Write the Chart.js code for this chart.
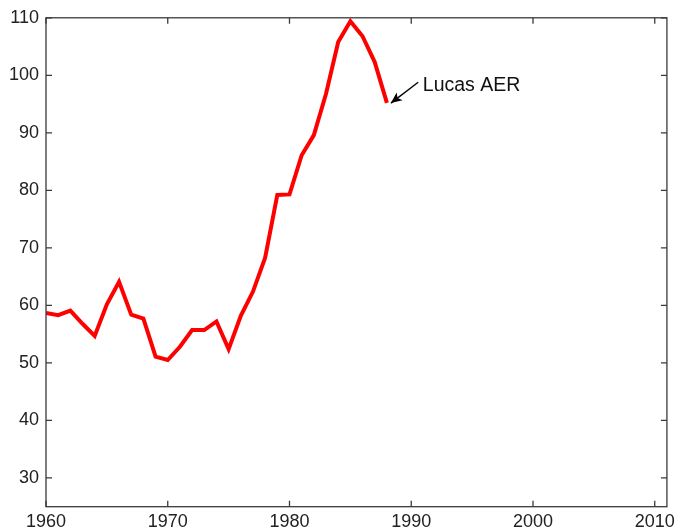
<!DOCTYPE html>
<html>
<head>
<meta charset="utf-8">
<script src="https://cdn.jsdelivr.net/npm/chart.js@4"></script>
<style>
  html, body { margin: 0; padding: 0; background: #fff; }
</style>
</head>
<body>
<canvas id="c" width="680" height="532"></canvas>
<script>
const years = [1960,1961,1962,1963,1964,1965,1966,1967,1968,1969,1970,1971,1972,1973,1974,1975,1976,1977,1978,1979,1980,1981,1982,1983,1984,1985,1986,1987,1988];
const values = [58.7,58.3,59.1,56.8,54.7,60.2,64.1,58.4,57.7,51.1,50.5,52.8,55.7,55.7,57.2,52.4,58.2,62.4,68.3,79.2,79.3,86.1,89.6,96.8,105.8,109.4,106.8,102.3,95.2];
const xTicks = [1960,1970,1980,1990,2000,2010];
const yTicks = [30,40,50,60,70,80,90,100,110];
const labelText = 'Lucas AER';

const axisColor = '#3a3a3a';
const font = { family: '"Liberation Sans", Arial, Helvetica, sans-serif', size: 18 };

const boxPlugin = {
  id: 'box',
  afterDraw(chart) {
    const { ctx, chartArea: a, scales: { x, y } } = chart;
    ctx.save();
    ctx.strokeStyle = axisColor;
    ctx.lineWidth = 1.3;
    ctx.strokeRect(a.left, a.top, a.right - a.left, a.bottom - a.top);
    const tl = 6;
    ctx.beginPath();
    xTicks.forEach(v => {
      const px = x.getPixelForValue(v);
      ctx.moveTo(px, a.bottom); ctx.lineTo(px, a.bottom - tl);
      ctx.moveTo(px, a.top); ctx.lineTo(px, a.top + tl);
    });
    yTicks.forEach(v => {
      const py = y.getPixelForValue(v);
      ctx.moveTo(a.left, py); ctx.lineTo(a.left + tl, py);
      ctx.moveTo(a.right, py); ctx.lineTo(a.right - tl, py);
    });
    ctx.stroke();

    // annotation
    const tx = x.getPixelForValue(1990.95), ty = y.getPixelForValue(97.32);
    ctx.fillStyle = '#111';
    ctx.font = '19.5px "Liberation Sans", Arial, Helvetica, sans-serif';
    ctx.textBaseline = 'alphabetic';
    ctx.textAlign = 'left';
    ctx.fillText(labelText, tx, ty);

    const x0 = x.getPixelForValue(1990.57), y0 = y.getPixelForValue(98.8);
    const x1 = x.getPixelForValue(1988.33), y1 = y.getPixelForValue(95.17);
    ctx.strokeStyle = '#000';
    ctx.fillStyle = '#000';
    ctx.lineWidth = 1.4;
    ctx.beginPath(); ctx.moveTo(x0, y0); ctx.lineTo(x1, y1); ctx.stroke();
    const ang = Math.atan2(y1 - y0, x1 - x0);
    const hl = 12, hw = 0.42;
    ctx.beginPath();
    ctx.moveTo(x1, y1);
    ctx.lineTo(x1 - hl * Math.cos(ang - hw), y1 - hl * Math.sin(ang - hw));
    ctx.lineTo(x1 - hl * 0.7 * Math.cos(ang), y1 - hl * 0.7 * Math.sin(ang));
    ctx.lineTo(x1 - hl * Math.cos(ang + hw), y1 - hl * Math.sin(ang + hw));
    ctx.closePath();
    ctx.fill();
    ctx.restore();
  }
};

new Chart(document.getElementById('c'), {
  type: 'line',
  data: {
    datasets: [{
      data: years.map((yr, i) => ({ x: yr, y: values[i] })),
      borderColor: '#ff0000',
      borderWidth: 4,
      pointRadius: 0,
      tension: 0,
      fill: false,
      borderJoinStyle: 'miter'
    }]
  },
  options: {
    responsive: false,
    animation: false,
    layout: { padding: { left: 0, right: 12, top: 16, bottom: 0 } },
    plugins: { legend: { display: false }, tooltip: { enabled: false } },
    scales: {
      x: {
        type: 'linear',
        min: 1960, max: 2011,
        afterBuildTicks: s => { s.ticks = xTicks.map(v => ({ value: v })); },
        afterFit: s => { s.height = 25.3; },
        grid: { display: false, drawTicks: false },
        border: { display: false },
        ticks: { font, color: '#222', padding: 5, maxRotation: 0, autoSkip: false, callback: v => String(v) }
      },
      y: {
        type: 'linear',
        min: 25, max: 110,
        afterBuildTicks: s => { s.ticks = yTicks.map(v => ({ value: v })); },
        afterFit: s => { s.width = 46; },
        grid: { display: false, drawTicks: false },
        border: { display: false },
        ticks: { font, color: '#222', padding: 7, autoSkip: false, callback: v => String(v) }
      }
    }
  },
  plugins: [boxPlugin]
});
</script>
</body>
</html>
